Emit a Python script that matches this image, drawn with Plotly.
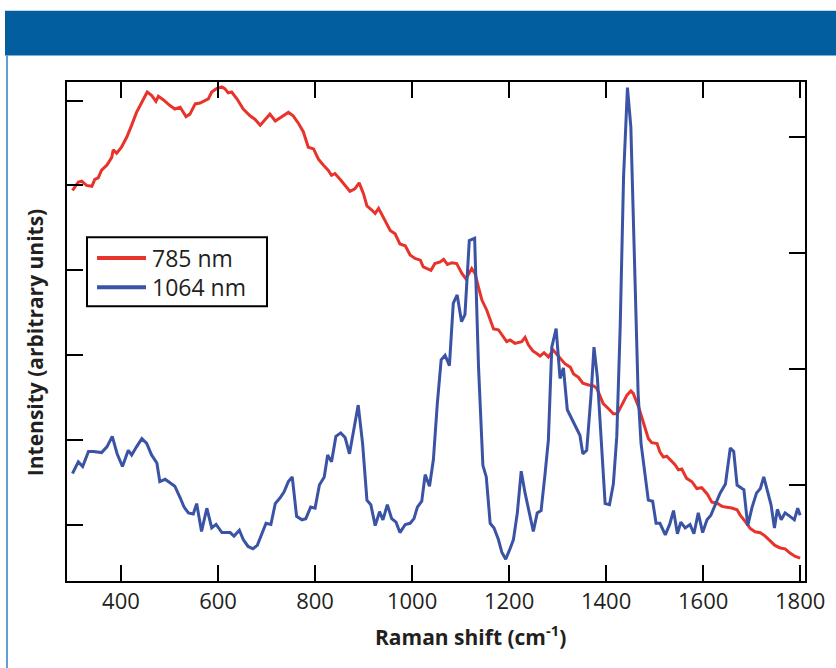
import plotly.graph_objects as go

# ---- data ----
x_tick_vals = [400, 600, 800, 1000, 1200, 1400, 1600, 1800]
x_tick_text = ["400", "600", "800", "1000", "1200", "1400", "1600", "1800"]
left_tick_vals = [100, 200, 300, 400, 500, 600]
right_tick_vals = [100, 200, 300, 400]

red_x = [300, 312, 319, 329, 340, 346, 353, 360, 371, 381, 384, 391, 401, 412, 422, 432, 443, 454, 463, 472,
         477, 487, 501, 511, 522, 534, 542, 553, 563, 570, 580, 587, 597, 608, 614, 621, 628, 639, 652, 666,
         676, 687, 697, 707, 718, 728, 745, 755, 766, 776, 786, 797, 807, 817, 827, 834, 841, 852, 862, 872,
         882, 891, 900, 907, 917, 924, 931, 938, 944, 955, 965, 975, 986, 996, 1006, 1017, 1023, 1032, 1039, 1047,
         1058, 1065, 1073, 1082, 1092, 1103, 1111, 1123, 1130, 1137, 1144, 1154, 1161, 1168, 1178, 1188, 1195, 1202, 1212, 1226,
         1233, 1240, 1249, 1257, 1264, 1272, 1281, 1291, 1305, 1315, 1326, 1333, 1343, 1352, 1364, 1374, 1381, 1388, 1394, 1405,
         1415, 1423, 1432, 1443, 1451, 1456, 1467, 1474, 1480, 1487, 1494, 1505, 1511, 1518, 1525, 1536, 1542, 1549, 1556, 1566,
         1577, 1587, 1597, 1608, 1618, 1628, 1639, 1649, 1659, 1670, 1676, 1687, 1697, 1707, 1718, 1728, 1738, 1748, 1759, 1769,
         1779, 1790, 1800]
red_y = [494, 504, 505, 500, 499, 507, 509, 518, 524, 533, 542, 538, 545, 557, 571, 586, 598, 610, 606, 599,
         605, 601, 594, 590, 592, 581, 584, 596, 597, 599, 602, 610, 614, 616, 614, 609, 610, 602, 590, 582,
         578, 571, 578, 584, 576, 580, 586, 582, 573, 563, 545, 543, 531, 524, 518, 512, 514, 507, 500, 493,
         496, 503, 490, 476, 471, 467, 473, 465, 460, 447, 443, 431, 429, 418, 414, 412, 404, 402, 400, 408,
         410, 413, 407, 409, 408, 396, 390, 402, 396, 380, 365, 353, 341, 331, 330, 322, 316, 318, 314, 316,
         321, 312, 305, 302, 299, 303, 298, 306, 296, 290, 286, 278, 274, 267, 265, 264, 261, 251, 243, 237,
         231, 231, 241, 253, 258, 255, 239, 227, 216, 202, 197, 196, 186, 180, 181, 174, 171, 165, 166, 155,
         151, 143, 144, 137, 127, 126, 122, 121, 120, 118, 112, 104, 96, 92, 91, 87, 82, 76, 73, 72,
         67, 63, 61]

blue_x = [300, 312, 321, 333, 343, 360, 371, 382, 392, 403, 415, 422, 432, 443, 453, 463, 474, 480, 491, 501,
          511, 522, 530, 539, 549, 556, 566, 577, 587, 596, 608, 625, 633, 644, 652, 662, 672, 681, 690, 699,
          709, 718, 728, 736, 745, 753, 762, 773, 781, 791, 800, 809, 819, 826, 834, 843, 853, 862, 871, 881,
          889, 898, 907, 915, 924, 933, 940, 949, 958, 967, 975, 986, 996, 1004, 1011, 1020, 1027, 1036, 1044, 1052,
          1060, 1068, 1077, 1085, 1093, 1102, 1109, 1118, 1129, 1137, 1146, 1153, 1161, 1169, 1178, 1185, 1193, 1201, 1209, 1217,
          1225, 1233, 1242, 1250, 1258, 1266, 1274, 1281, 1288, 1297, 1305, 1312, 1320, 1329, 1340, 1346, 1352, 1360, 1369, 1375,
          1382, 1389, 1398, 1407, 1415, 1422, 1429, 1436, 1444, 1451, 1458, 1466, 1472, 1480, 1487, 1496, 1503, 1511, 1522, 1531,
          1539, 1547, 1554, 1563, 1573, 1581, 1590, 1599, 1608, 1616, 1625, 1635, 1646, 1656, 1663, 1670, 1680, 1684, 1692, 1701,
          1710, 1718, 1725, 1733, 1740, 1747, 1753, 1761, 1769, 1779, 1788, 1795, 1800]
blue_y = [110, 120, 116, 129, 129, 128, 133, 142, 127, 116, 130, 126, 133, 140, 136, 126, 119, 103, 105, 102,
          99, 89, 81, 76, 75, 84, 60, 80, 63, 66, 59, 59, 56, 61, 53, 47, 45, 48, 57, 67,
          66, 84, 89, 94, 103, 107, 73, 70, 71, 81, 80, 100, 107, 126, 120, 142, 145, 141, 127, 150,
          169, 136, 87, 83, 65, 77, 70, 83, 71, 68, 59, 66, 67, 71, 81, 86, 109, 99, 122, 170,
          208, 212, 203, 257, 264, 241, 247, 311, 313, 202, 117, 107, 67, 63, 53, 42, 36, 44, 53, 76,
          112, 93, 76, 60, 76, 78, 109, 139, 219, 235, 192, 201, 165, 157, 147, 143, 127, 130, 178, 219,
          193, 142, 84, 83, 101, 142, 236, 366, 443, 409, 294, 179, 136, 107, 87, 86, 67, 67, 57, 66,
          78, 58, 68, 63, 66, 58, 76, 59, 70, 74, 83, 93, 101, 132, 129, 100, 97, 96, 65, 81,
          93, 97, 107, 93, 83, 63, 79, 70, 76, 73, 70, 80, 74]

series_names = ["785 nm", "1064 nm"]

# ---- styles ----
RED = "#e8332b"
BLUE = "#3a53a4"
INK = "#231f20"
FONT = "Open Sans"
colors = [RED, BLUE]

fig = go.Figure()
fig.add_trace(go.Scatter(x=red_x, y=red_y, mode="lines", name=series_names[0],
                         line=dict(color=RED, width=3), showlegend=False))
fig.add_trace(go.Scatter(x=blue_x, y=blue_y, mode="lines", name=series_names[1],
                         line=dict(color=BLUE, width=3), yaxis="y2", showlegend=False))

axis_common = dict(ticks="inside", ticklen=16, tickwidth=2, tickcolor="black",
                   showline=True, linewidth=2, linecolor="black",
                   showgrid=False, zeroline=False)

# legend box drawn in paper coordinates (layout decoration)
LEG_X0, LEG_X1, LEG_Y0, LEG_Y1 = 0.0271, 0.2710, 0.5506, 0.6887
LEG_LINE_X0, LEG_LINE_X1, LEG_TEXT_X = 0.0407, 0.1070, 0.1125
LEG_ROWS = [0.6473, 0.5886]

shapes = [
    dict(type="rect", xref="paper", yref="paper", x0=-0.084, x1=1.05, y0=1.053, y1=1.143,
         fillcolor="#025e9f", line=dict(width=0)),
    dict(type="line", xref="paper", yref="paper", x0=-0.0813, x1=-0.0813, y0=-0.2, y1=1.053,
         line=dict(color="#2f7cc2", width=1.5)),
    dict(type="rect", xref="paper", yref="paper", x0=LEG_X0, x1=LEG_X1, y0=LEG_Y0, y1=LEG_Y1,
         fillcolor="white", line=dict(color="black", width=2)),
]
annotations = [
    dict(text="<b>Raman shift (cm<sup>-1</sup>)</b>", xref="paper", yref="paper",
         x=0.5474, y=-0.110, xanchor="center", yanchor="middle", showarrow=False,
         font=dict(size=21, color=INK, family=FONT)),
    dict(text="<b>Intensity (arbitrary units)</b>", xref="paper", yref="paper",
         x=-0.0434, y=0.4785, xanchor="center", yanchor="middle", showarrow=False,
         textangle=-90, font=dict(size=21, color=INK, family=FONT)),
]
for name, col, ry in zip(series_names, colors, LEG_ROWS):
    shapes.append(dict(type="line", xref="paper", yref="paper", x0=LEG_LINE_X0, x1=LEG_LINE_X1,
                       y0=ry, y1=ry, line=dict(color=col, width=4)))
    annotations.append(dict(text=name, xref="paper", yref="paper", x=LEG_TEXT_X, y=ry,
                            xanchor="left", yanchor="middle", showarrow=False,
                            font=dict(size=23, color=INK, family=FONT)))

fig.update_layout(
    width=836, height=668,
    margin=dict(l=67, r=31, t=82, b=87),
    paper_bgcolor="white", plot_bgcolor="white",
    font=dict(family=FONT, color=INK),
    showlegend=False,
    xaxis=dict(range=[288.7, 1810], tickvals=x_tick_vals, ticktext=x_tick_text,
               mirror="ticks", tickfont=dict(size=22, color=INK, family=FONT), **axis_common),
    yaxis=dict(range=[34.1, 621.8], tickvals=left_tick_vals, showticklabels=False, **axis_common),
    yaxis2=dict(range=[17.2, 447.8], tickvals=right_tick_vals, showticklabels=False,
                overlaying="y", side="right", **axis_common),
    shapes=shapes,
    annotations=annotations,
)

fig.write_html("out.html")
